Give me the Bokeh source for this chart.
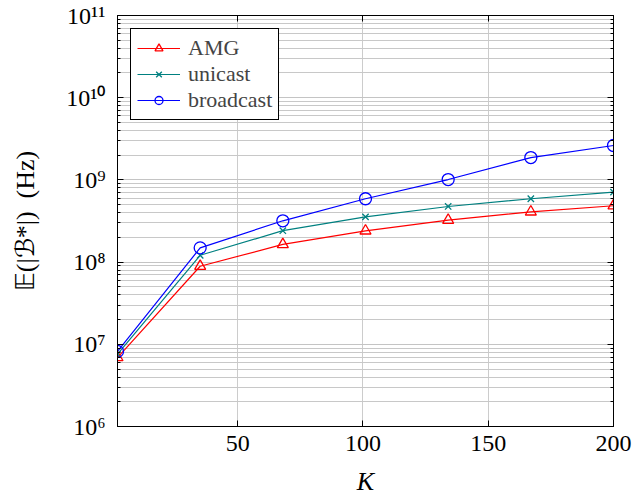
from bokeh.plotting import figure
from bokeh.models import (Range1d, FixedTicker, CustomJSTickFormatter, LinearAxis,
                          LogAxis, Legend, LegendItem)
from bokeh.embed import file_html
from bokeh.resources import INLINE

# ---- data ----
K = [2, 35, 68, 101, 134, 167, 200]
amg = [6.9e6, 8.9e7, 1.64e8, 2.4e8, 3.24e8, 4.09e8, 4.85e8]
unicast = [7.6e6, 1.21e8, 2.41e8, 3.55e8, 4.75e8, 5.9e8, 7.1e8]
broadcast = [8.2e6, 1.49e8, 3.18e8, 5.9e8, 1.01e9, 1.87e9, 2.62e9]
series_names = ["AMG", "unicast", "broadcast"]
x_ticks = [50, 100, 150, 200]
y_exponents = [6, 7, 8, 9, 10, 11]
y_ticks = [10.0 ** e for e in y_exponents]
y_minor = [m * 10.0 ** e for e in y_exponents[:-1] for m in range(2, 10)]

FONT = "Liberation Serif"

p = figure(width=635, height=498,
           x_range=Range1d(2, 200), y_range=Range1d(1e6, 1e11),
           y_axis_type="log", output_backend="svg", toolbar_location=None,
           min_border_left=117, min_border_right=22, min_border_top=15,
           min_border_bottom=71)
p.outline_line_color = "black"
p.outline_line_width = 1
p.background_fill_color = "white"
p.border_fill_color = "white"

xt = FixedTicker(ticks=x_ticks, minor_ticks=[])
yt = FixedTicker(ticks=y_ticks, minor_ticks=y_minor)

sup_code = """
const sup = {'0':'\u2070','1':'\u00b9','2':'\u00b2','3':'\u00b3','4':'\u2074',
             '5':'\u2075','6':'\u2076','7':'\u2077','8':'\u2078','9':'\u2079','-':'\u207b'};
const e = Math.round(Math.log10(tick));
return '10' + String(e).split('').map(c => sup[c]).join('');
"""
yfmt = CustomJSTickFormatter(code=sup_code)
blank = CustomJSTickFormatter(code="return '';")

p.xaxis.ticker = xt
p.yaxis.ticker = yt
p.yaxis.formatter = yfmt
p.xgrid.ticker = xt
p.ygrid.ticker = yt

for ax in p.xaxis + p.yaxis:
    ax.major_tick_in = 6
    ax.major_tick_out = 0
    ax.minor_tick_in = 3
    ax.minor_tick_out = 0
    ax.axis_line_color = "black"
    ax.major_tick_line_color = "black"
    ax.minor_tick_line_color = "black"
    ax.major_label_text_font = FONT
    ax.major_label_text_font_size = "24px"
    ax.major_label_text_color = "black"
    ax.axis_label_text_font = FONT
    ax.axis_label_text_color = "black"

p.xaxis.major_label_standoff = 9
p.xaxis.axis_label = "K"
p.xaxis.axis_label_text_font_size = "26px"
p.xaxis.axis_label_text_font_style = "italic"
p.xaxis.axis_label_standoff = 13

p.yaxis.major_label_standoff = 12
p.yaxis.axis_label = "\U0001D53C(|\u212C*|)\u2002(Hz)"
p.yaxis.axis_label_text_font_size = "26px"
p.yaxis.axis_label_text_font_style = "normal"
p.yaxis.axis_label_standoff = 23

# mirrored ticks on top and right
top_ax = LinearAxis(ticker=xt, formatter=blank, major_tick_in=6,
                    major_tick_out=0, minor_tick_in=0, minor_tick_out=0,
                    major_label_standoff=0, axis_line_color="black",
                    major_tick_line_color="black")
right_ax = LogAxis(ticker=yt, formatter=blank, major_tick_in=6,
                   major_tick_out=0, minor_tick_in=3, minor_tick_out=0,
                   major_label_standoff=0, axis_line_color="black",
                   major_tick_line_color="black", minor_tick_line_color="black")
p.add_layout(top_ax, "above")
p.add_layout(right_ax, "right")

p.xgrid.grid_line_color = "#cccccc"
p.ygrid.grid_line_color = "#c4c4c4"
p.ygrid.minor_grid_line_color = "#c8c8c8"

colors = ["#ff0000", "#008080", "#0000ff"]
markers = ["triangle", "x", "circle"]
sizes = [11, 9, 12]
values = [amg, unicast, broadcast]

items = []
for name, vals, c, m, s in zip(series_names, values, colors, markers, sizes):
    ln = p.line(K, vals, line_color=c, line_width=1.2)
    sc = p.scatter(K, vals, marker=m, size=s, fill_color=None, line_color=c, line_width=1.3)
    items.append(LegendItem(label=name, renderers=[ln, sc]))

legend = Legend(items=items, location="top_left", margin=13,
                border_line_color="black", border_line_width=1, border_line_alpha=1,
                background_fill_color="white", background_fill_alpha=1,
                label_text_font=FONT, label_text_font_size="22px",
                glyph_width=43, glyph_height=20, label_height=20,
                label_standoff=8, padding=6, spacing=0)
p.add_layout(legend)

open("out.html", "w").write(file_html(p, INLINE))
